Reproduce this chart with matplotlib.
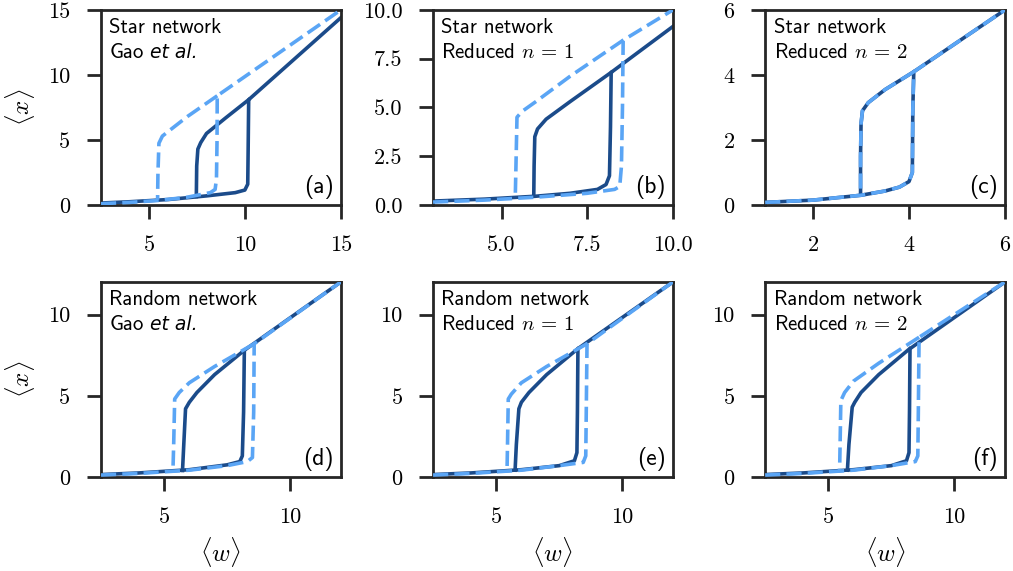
from matplotlib import pyplot as plt

plt.rcParams['mathtext.fontset'] = 'cm'

# colours of the two curves
dark = '#1b4b8a'
light = '#5aa5f5'

titles = ['Star network', 'Star network', 'Star network',
          'Random network', 'Random network', 'Random network']
subtitles = ['Gao', r'Reduced $n\,=\,1$', r'Reduced $n\,=\,2$',
             'Gao', r'Reduced $n\,=\,1$', r'Reduced $n\,=\,2$']
letters = ['(a)', '(b)', '(c)', '(d)', '(e)', '(f)']

xlims = [(2.5, 15), (3, 10), (1, 6), (2.5, 12), (2.5, 12), (2.5, 12)]
ylims = [(0, 15), (0, 10), (0, 6), (0, 12), (0, 12), (0, 12)]
xticks = [[5, 10, 15], [5.0, 7.5, 10.0], [2, 4, 6], [5, 10], [5, 10], [5, 10]]
xticklabels = [['5', '10', '15'], ['5.0', '7.5', '10.0'], ['2', '4', '6'],
               ['5', '10'], ['5', '10'], ['5', '10']]
yticks = [[0, 5, 10, 15], [0, 2.5, 5, 7.5, 10], [0, 2, 4, 6],
          [0, 5, 10], [0, 5, 10], [0, 5, 10]]
yticklabels = [['0', '5', '10', '15'], ['0.0', '2.5', '5.0', '7.5', '10.0'],
               ['0', '2', '4', '6'], ['0', '5', '10'], ['0', '5', '10'], ['0', '5', '10']]

# solid curves (forward sweep: lower branch, jump up, upper branch)
solid_fwd_w = [
    [2.5, 4, 6, 8, 9.5, 10.0, 10.15, 10.17, 10.2, 15],
    [3, 4.5, 6, 7, 7.8, 8.05, 8.15, 8.18, 8.2, 10],
    [1, 2, 3, 3.5, 3.8, 4.0, 4.07, 4.08, 4.1, 6],
    [2.5, 4, 6, 7.5, 8.0, 8.1, 8.15, 8.18, 12],
    [2.5, 4, 6, 7.5, 8.1, 8.2, 8.22, 8.24, 12],
    [2.5, 4, 6, 7.5, 8.1, 8.2, 8.22, 8.24, 12],
]
solid_fwd_x = [
    [0.15, 0.25, 0.42, 0.7, 0.95, 1.15, 1.6, 4.0, 8.1, 14.4],
    [0.2, 0.3, 0.45, 0.6, 0.8, 1.05, 1.5, 4.0, 6.8, 9.15],
    [0.08, 0.15, 0.3, 0.43, 0.55, 0.72, 1.0, 3.0, 4.1, 6.0],
    [0.15, 0.25, 0.45, 0.75, 0.95, 1.3, 4.0, 7.8, 12.0],
    [0.15, 0.25, 0.45, 0.7, 1.0, 1.5, 4.0, 7.9, 12.0],
    [0.15, 0.25, 0.45, 0.7, 1.0, 1.5, 4.0, 7.9, 12.0],
]
# solid curves (backward sweep: upper branch down to the jump, then down)
solid_bwd_w = [
    [10.2, 9.0, 8.0, 7.7, 7.55, 7.49, 7.47],
    [8.2, 7.0, 6.3, 6.05, 5.97, 5.95, 5.94],
    [4.1, 3.5, 3.15, 3.03, 3.0, 2.99, 2.99],
    [8.18, 7.0, 6.3, 6.0, 5.85, 5.78, 5.73],
    [8.24, 7.0, 6.3, 6.0, 5.9, 5.8, 5.75],
    [8.23, 7.0, 6.3, 6.05, 5.95, 5.82, 5.76],
]
solid_bwd_x = [
    [8.1, 6.7, 5.5, 4.8, 4.3, 3.0, 0.65],
    [6.8, 5.3, 4.4, 3.9, 3.5, 2.0, 0.45],
    [4.1, 3.55, 3.15, 2.9, 2.5, 1.5, 0.33],
    [7.8, 6.3, 5.2, 4.6, 4.2, 2.0, 0.4],
    [7.9, 6.3, 5.2, 4.6, 4.2, 2.0, 0.42],
    [7.9, 6.3, 5.2, 4.6, 4.3, 2.0, 0.42],
]

# dashed curves
dash_fwd_w = [
    [2.5, 4, 5.5, 7, 8.2, 8.45, 8.52, 8.55, 8.56, 15],
    [3, 4.5, 6, 7.5, 8.3, 8.45, 8.5, 8.53, 8.55, 10],
    [1, 2, 3, 3.5, 3.8, 4.0, 4.07, 4.08, 4.1, 6],
    [2.5, 4, 6, 7.5, 8.3, 8.5, 8.55, 8.57, 12],
    [2.5, 4, 6, 7.5, 8.45, 8.55, 8.57, 8.6, 12],
    [2.5, 4, 6, 7.5, 8.45, 8.55, 8.57, 8.6, 12],
]
dash_fwd_x = [
    [0.1, 0.2, 0.35, 0.6, 0.95, 1.2, 2.0, 5.0, 8.4, 15.0],
    [0.15, 0.25, 0.4, 0.6, 0.8, 0.95, 2.0, 5.0, 8.45, 10.0],
    [0.08, 0.15, 0.3, 0.43, 0.55, 0.72, 1.0, 3.0, 4.1, 6.0],
    [0.12, 0.22, 0.42, 0.7, 0.95, 1.2, 4.0, 8.2, 12.0],
    [0.12, 0.22, 0.42, 0.7, 0.9, 1.3, 4.0, 8.2, 12.0],
    [0.12, 0.22, 0.42, 0.7, 0.95, 1.3, 4.0, 8.6, 12.0],
]
dash_bwd_w = [
    [8.56, 7.0, 6.0, 5.7, 5.52, 5.47, 5.45],
    [8.55, 7.0, 6.0, 5.6, 5.45, 5.42, 5.4],
    [4.1, 3.5, 3.15, 3.03, 3.0, 2.99, 2.99],
    [8.57, 7.0, 6.0, 5.6, 5.42, 5.38, 5.35],
    [8.6, 7.0, 6.0, 5.6, 5.48, 5.45, 5.43],
    [8.6, 7.0, 6.0, 5.65, 5.5, 5.47, 5.45],
]
dash_bwd_x = [
    [8.4, 6.8, 5.65, 5.3, 4.75, 2.5, 0.4],
    [8.45, 6.6, 5.3, 4.8, 4.5, 2.0, 0.4],
    [4.1, 3.55, 3.15, 2.9, 2.5, 1.5, 0.33],
    [8.2, 6.8, 5.8, 5.2, 4.8, 2.0, 0.35],
    [8.2, 6.8, 5.8, 5.1, 4.8, 2.0, 0.35],
    [8.6, 7.0, 5.9, 5.2, 4.7, 2.0, 0.35],
]

fig, axes = plt.subplots(2, 3, figsize=(10.13, 5.71), dpi=100)
plt.subplots_adjust(left=0.0997, right=0.992, top=0.9825, bottom=0.1646,
                    wspace=0.385, hspace=0.395)

for i, ax in enumerate(axes.flat):
    ax.plot(solid_fwd_w[i], solid_fwd_x[i], color=dark, lw=2.6, zorder=2)
    ax.plot(solid_bwd_w[i], solid_bwd_x[i], color=dark, lw=2.6, zorder=2)
    ax.plot(dash_fwd_w[i], dash_fwd_x[i], color=light, lw=2.6, zorder=3, dashes=(4.2, 1.7))
    ax.plot(dash_bwd_w[i], dash_bwd_x[i], color=light, lw=2.6, zorder=3, dashes=(4.2, 1.7))
    ax.set_xlim(xlims[i])
    ax.set_ylim(ylims[i])
    ax.set_xticks(xticks[i])
    ax.set_xticklabels(xticklabels[i], fontfamily='cmr10', fontsize=16)
    ax.set_yticks(yticks[i])
    ax.set_yticklabels(yticklabels[i], fontfamily='cmr10', fontsize=16)
    ax.tick_params(direction='out', length=10, width=2, color='#262626', pad=12)
    for s in ax.spines.values():
        s.set_linewidth(2)
        s.set_color('#262626')

    ax.text(0.035, 0.88, titles[i], transform=ax.transAxes, fontsize=15,
            va='baseline', ha='left', fontfamily='cmss10')
    t2 = ax.text(0.035, 0.755, subtitles[i], transform=ax.transAxes, fontsize=15,
                 va='baseline', ha='left', fontfamily='cmss10')
    if subtitles[i] == 'Gao':
        ax.annotate(' et al.', xy=(1, 0), xycoords=t2, va='bottom', ha='left',
                    fontsize=13.5, style='italic', fontfamily='DejaVu Sans')
    ax.text(0.97, 0.06, letters[i], transform=ax.transAxes, fontsize=17,
            va='baseline', ha='right', fontfamily='cmss10')

for ax in axes[:, 0]:
    ax.set_ylabel(r'$\langle x \rangle$', fontsize=18, labelpad=8)
for ax in axes[1, :]:
    ax.set_xlabel(r'$\langle w \rangle$', fontsize=18, labelpad=6)

plt.savefig('out.png', dpi=100)
